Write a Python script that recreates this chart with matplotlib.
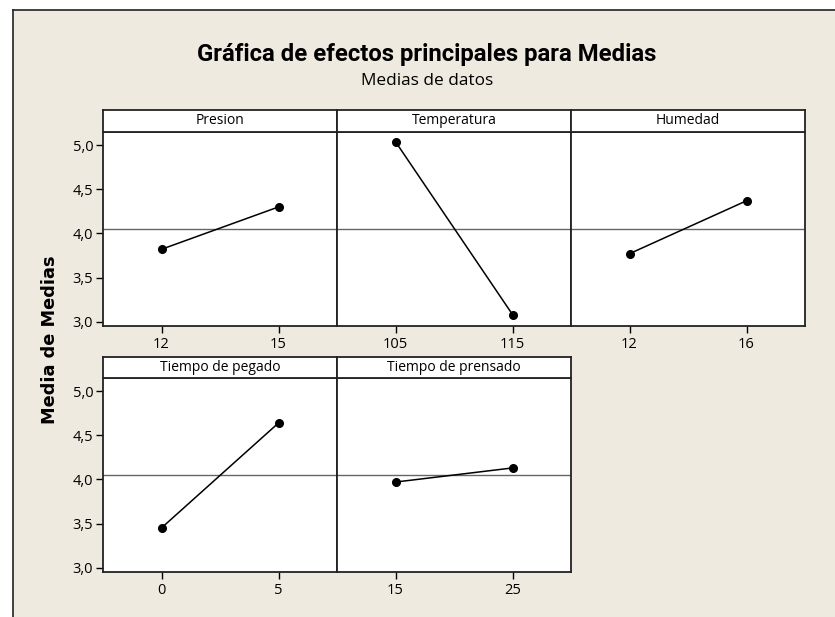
import matplotlib
matplotlib.use("Agg")
import matplotlib.pyplot as plt
from matplotlib.patches import Rectangle
from matplotlib.lines import Line2D

plt.rcParams['font.family'] = ['Open Sans', 'DejaVu Sans']

# ---- data ----
factors = ["Presion", "Temperatura", "Humedad", "Tiempo de pegado", "Tiempo de prensado"]
levels = [["12", "15"], ["105", "115"], ["12", "16"], ["0", "5"], ["15", "25"]]
presion_means = [3.82, 4.30]
temperatura_means = [5.04, 3.08]
humedad_means = [3.77, 4.37]
pegado_means = [3.45, 4.64]
prensado_means = [3.97, 4.13]
all_means = [presion_means, temperatura_means, humedad_means, pegado_means, prensado_means]
grand_mean = 4.05
y_ticks = [3.0, 3.5, 4.0, 4.5, 5.0]
y_ticklabels = ["3,0", "3,5", "4,0", "4,5", "5,0"]

title = "Gráfica de efectos principales para Medias"
subtitle = "Medias de datos"
ylabel = "Media de Medias"

W, H = 835, 617
fig = plt.figure(figsize=(W / 100, H / 100), dpi=100)
fig.patch.set_facecolor("white")

bg = "#EEEAE0"
fig.patches.append(Rectangle((13 / W, 0), 1 - 13 / W, 1 - 10 / H, transform=fig.transFigure,
                             facecolor=bg, edgecolor="none", zorder=-5))
fig.lines.append(Line2D([13 / W, 13 / W], [0, 1 - 10 / H], transform=fig.transFigure,
                        color="#222222", lw=1.2, zorder=-4))
fig.lines.append(Line2D([13 / W, 1], [1 - 10 / H, 1 - 10 / H], transform=fig.transFigure,
                        color="#222222", lw=1.2, zorder=-4))

fig.text(427 / W, 1 - 54 / H, title, ha="center", va="center", fontsize=17.2,
         fontweight="bold", color="black", family=["Roboto", "DejaVu Sans"])
fig.text(427 / W, 1 - 81 / H, subtitle, ha="center", va="center", fontsize=12.4, color="black")
fig.text(50 / W, 1 - 340 / H, ylabel, ha="center", va="center", rotation=90,
         fontsize=12.8, fontweight="bold", color="black", family=["DejaVu Sans"])

col_x = [103, 337, 571]
pw = 234
rows = [(110, 132, 326), (357, 378, 572)]

for i, (name, levs, means) in enumerate(zip(factors, levels, all_means)):
    r, c = divmod(i, 3)
    strip_top, plot_top, plot_bot = rows[r]
    x0 = col_x[c]
    ax = fig.add_axes([x0 / W, 1 - plot_bot / H, pw / W, (plot_bot - plot_top) / H])
    ax.set_facecolor("white")
    ax.axhline(grand_mean, color="#666666", lw=1.0, zorder=1)
    ax.plot(range(len(means)), means, color="black", lw=1.1, marker="o",
            markersize=5.5, zorder=3)
    ax.set_xlim(-0.5, len(means) - 0.5)
    ax.set_ylim(2.95, 5.15)
    ax.set_xticks(range(len(levs)))
    ax.set_xticklabels(levs)
    ax.set_yticks(y_ticks)
    if c == 0:
        ax.set_yticklabels(y_ticklabels)
        ax.tick_params(axis="y", direction="out", length=5, width=1, labelsize=10.5, pad=2)
    else:
        ax.tick_params(axis="y", left=False, labelleft=False)
    ax.tick_params(axis="x", direction="out", length=5, width=1, labelsize=10.5, pad=3)
    for s in ax.spines.values():
        s.set_linewidth(1.3)
        s.set_color("#222222")

    sax = fig.add_axes([x0 / W, 1 - plot_top / H, pw / W, (plot_top - strip_top) / H])
    sax.set_facecolor("white")
    sax.set_xticks([])
    sax.set_yticks([])
    for s in sax.spines.values():
        s.set_linewidth(1.3)
        s.set_color("#222222")
    sax.text(0.5, 0.5, name, ha="center", va="center", fontsize=10,
             transform=sax.transAxes)

fig.savefig("out.png", dpi=100)
